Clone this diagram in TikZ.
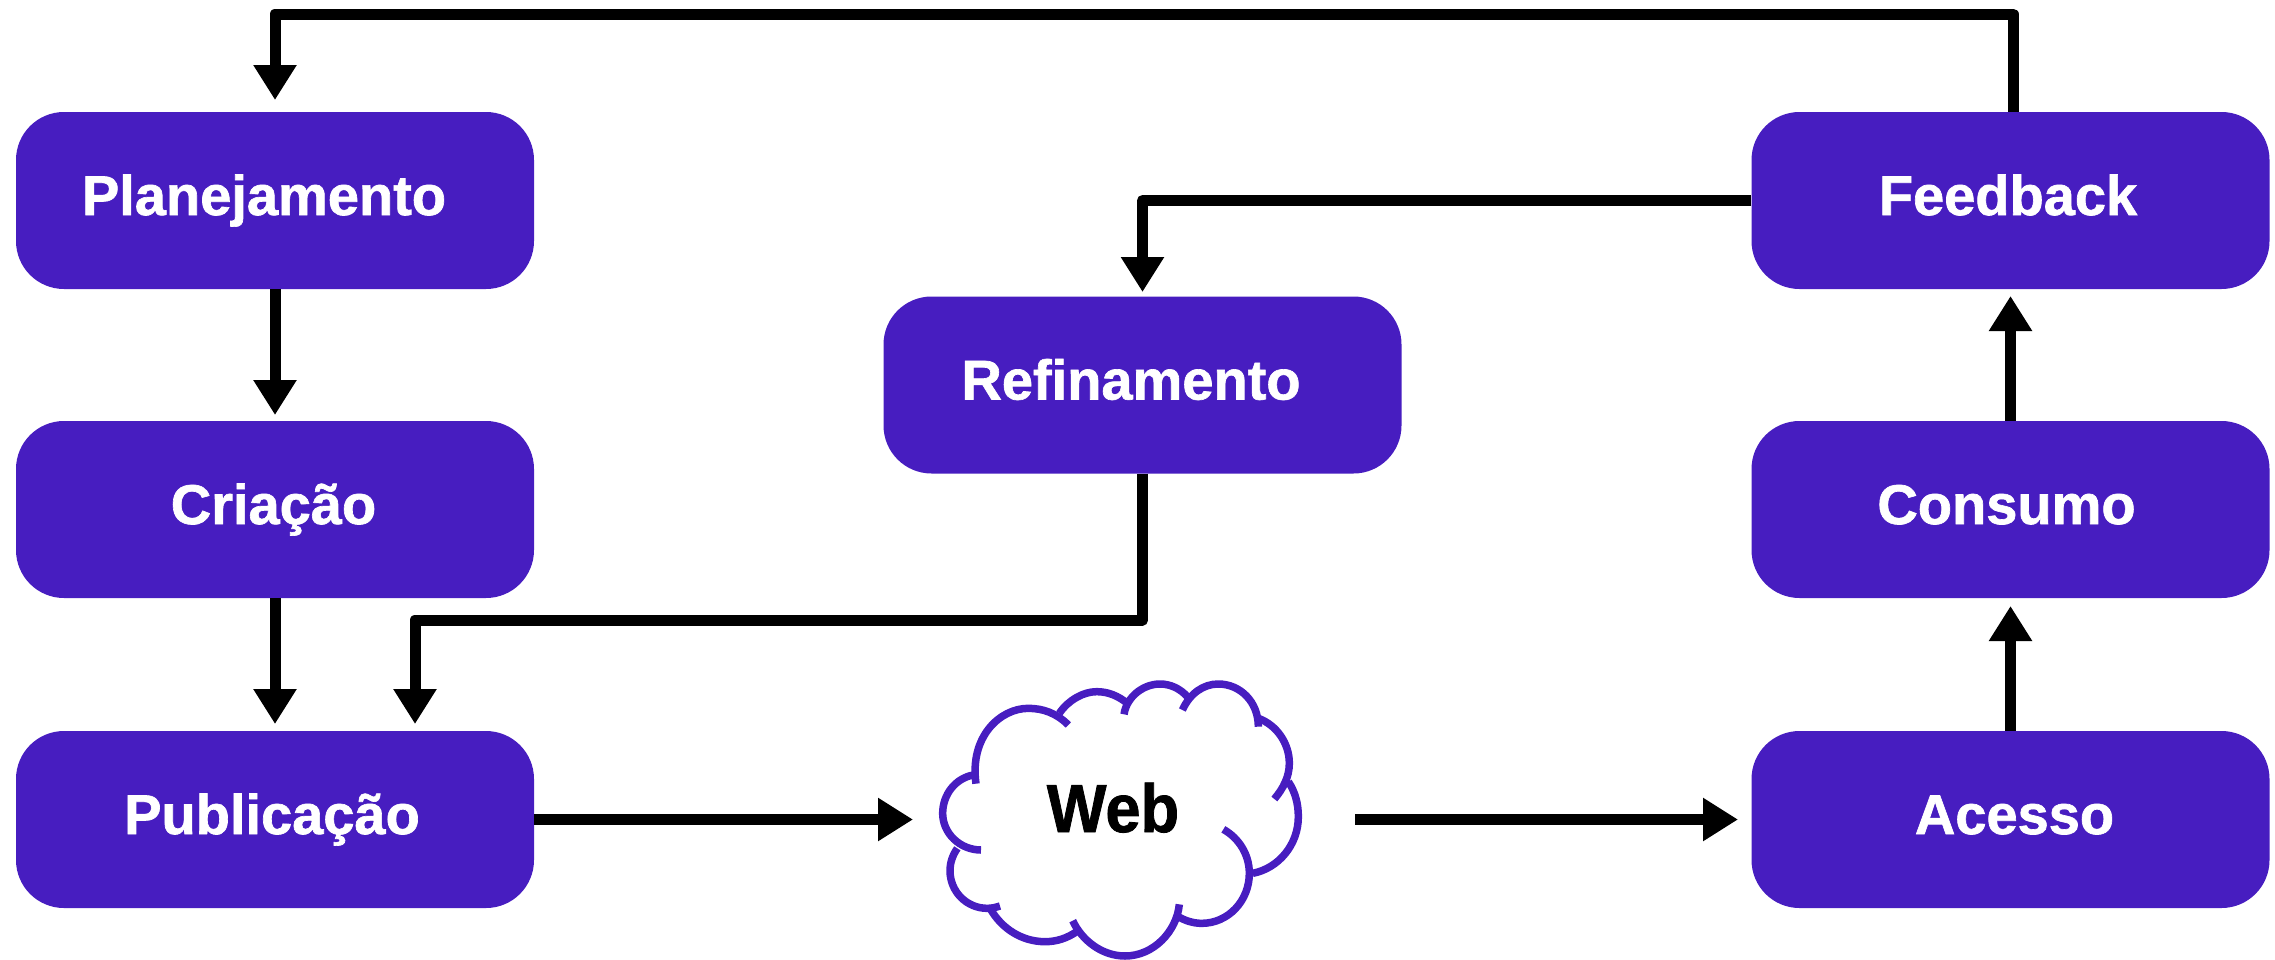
\documentclass[tikz,border=0pt]{standalone}
\usepackage{fontspec}
\setmainfont[BoldFeatures={FakeBold=1.2}]{Liberation Sans}
\usetikzlibrary{arrows.meta}
\definecolor{boxviolet}{HTML}{471DC0}
\tikzset{
  flowbox/.style={fill=boxviolet,draw=none,rounded corners=48pt,minimum width=518pt,minimum height=177pt,
    inner sep=0pt,text=white,font=\fontsize{56}{60}\bfseries\selectfont,text height=45pt,text depth=16pt,anchor=center},
  conn/.style={draw=black,line width=11pt,line join=round,-{Triangle[length=35pt,width=41pt]}},
  cloudline/.style={draw=boxviolet,line width=7.5pt},
}
\begin{document}
\begin{tikzpicture}[x=1pt,y=-1pt]
\useasboundingbox (0,0) rectangle (2275,959);
% boxes (the kern keeps each label as far off centre as in the picture)
\node[flowbox] (plan) at (275,200.5) {\kern-22pt Planejamento};
\node[flowbox] (cria) at (275,509.5) {\kern-3pt Criação};
\node[flowbox] (pub)  at (275,819.5)   {\kern-6pt Publicação};
\node[flowbox] (ref)  at (1142.5,385) {\kern-23pt Refinamento};
\node[flowbox] (feed) at (2010.5,200.5) {\kern-5pt Feedback};
\node[flowbox] (cons) at (2010.5,509.5) {\kern-8pt Consumo};
\node[flowbox] (ace)  at (2010.5,819.5)  {\kern8pt Acesso};
% cloud
\begin{scope}[shift={(900,660)},x=0.33333pt,y=-0.33333pt]
\draw[cloudline] (228,371) .. controls (208,230) and (300,145) .. (385,145) .. controls (430,145) and (470,160) .. (505,195);
\draw[cloudline] (478,160) .. controls (505,120) and (550,95) .. (590,95) .. controls (625,95) and (655,108) .. (682,130);
\draw[cloudline] (672,163) .. controls (680,110) and (730,72) .. (780,72) .. controls (810,72) and (840,85) .. (862,110);
\draw[cloudline] (847,150) .. controls (870,100) and (910,72) .. (955,72) .. controls (1020,72) and (1075,125) .. (1075,200);
\draw[cloudline] (1075,175) .. controls (1130,195) and (1168,250) .. (1168,310) .. controls (1168,350) and (1150,385) .. (1123,417);
\draw[cloudline] (1165,365) .. controls (1185,395) and (1195,430) .. (1195,470) .. controls (1195,555) and (1135,625) .. (1058,640);
\draw[cloudline] (970,508) .. controls (1018,535) and (1048,585) .. (1048,640) .. controls (1048,722) and (985,790) .. (905,790) .. controls (880,790) and (855,782) .. (835,770);
\draw[cloudline] (838,733) .. controls (830,815) and (760,888) .. (675,888) .. controls (605,888) and (545,840) .. (518,782);
\draw[cloudline] (530,815) .. controls (500,835) and (470,845) .. (435,845) .. controls (365,845) and (305,805) .. (272,748);
\draw[cloudline] (300,738) .. controls (288,742) and (275,745) .. (262,745) .. controls (200,745) and (150,695) .. (150,632) .. controls (150,608) and (158,585) .. (172,565);
\draw[cloudline] (243,570) .. controls (180,570) and (128,520) .. (128,460) .. controls (128,405) and (165,355) .. (220,345);
\end{scope}
\node[inner sep=0pt,anchor=base,text=black,font=\fontsize{68}{70}\bfseries\selectfont,xscale=0.93] (web) at (1113,832) {Web};
% free ends and waypoints
\coordinate (toptipP) at (275,100);
\coordinate (topR) at (2013,14);
\coordinate (topL) at (275,14);
\coordinate (feedOut) at (2013,112);
\coordinate (refTip) at (1142.5,292);
\coordinate (refBend) at (1142.5,620);
\coordinate (pubBend) at (415,620);
\coordinate (pubTip) at (415,724);
\coordinate (webIn) at (913,819.5);
\coordinate (webOut) at (1355,819.5);
\coordinate (aceTip) at (1738,819.5);
\coordinate (plaTip) at (275,415);
\coordinate (criTip) at (275,724);
\coordinate (consTip) at (2010.5,606);
\coordinate (feedTip) at (2010.5,296);
% connectors
\draw[conn] (feedOut) -- (topR) -- (topL) -- (toptipP);
\draw[conn] (feed.west) -- (refTip |- feed.west) -- (refTip);
\draw[conn] (ref.south) -- (refBend) -- (pubBend) -- (pubTip);
\draw[conn] (plan.south) -- (plaTip);
\draw[conn] (cria.south) -- (criTip);
\draw[conn] (pub.east) -- (webIn);
\draw[conn] (webOut) -- (aceTip);
\draw[conn] (ace.north) -- (consTip);
\draw[conn] (cons.north) -- (feedTip);
\end{tikzpicture}
\end{document}
